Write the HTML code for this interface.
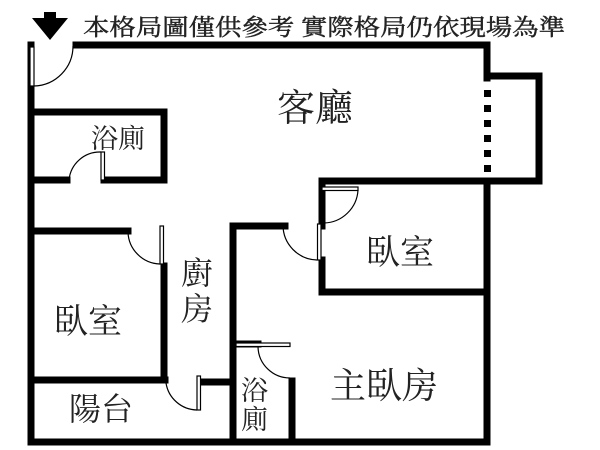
<!DOCTYPE html>
<html><head><meta charset="utf-8"><style>
html,body{margin:0;padding:0;background:#fff;}
svg{display:block;}
text{font-family:"Liberation Serif","Noto Serif CJK SC","Noto Sans CJK TC",serif;fill:#222;}
</style></head><body>
<svg width="600" height="450" viewBox="0 0 600 450" xmlns="http://www.w3.org/2000/svg">
<rect width="600" height="450" fill="#fff"/>
<rect x="44" y="12" width="12" height="8" fill="#000"/>
<polygon points="32,18 68,18 50,40" fill="#000"/>
<text x="83" y="35" font-size="23" textLength="482" lengthAdjust="spacingAndGlyphs" font-family="Liberation Sans,Noto Sans CJK TC,sans-serif" fill="#222" stroke="#222" stroke-width="0.4">本格局圖僅供參考&#160;實際格局仍依現場為準</text>
<g stroke="#000" stroke-width="7" fill="none" stroke-linecap="square">
<line x1="31" y1="45" x2="31" y2="442"/>
<line x1="76" y1="45" x2="487" y2="45"/>
<line x1="487" y1="45" x2="487" y2="78"/>
<polyline points="487,76 539,76 539,181 322,181 322,226"/>
<line x1="487" y1="181" x2="487" y2="442"/>
<line x1="31" y1="442" x2="487" y2="442"/>
<polyline points="33,112 164,112 164,180 104,180"/>
<line x1="33" y1="180" x2="67" y2="180"/>
<line x1="33" y1="231" x2="128" y2="231"/>
<line x1="164" y1="266" x2="164" y2="380"/>
<line x1="33" y1="380" x2="165" y2="380"/>
<line x1="203" y1="382" x2="232" y2="382"/>
<line x1="233" y1="226" x2="233" y2="442"/>
<line x1="233" y1="226" x2="285" y2="226"/>
<line x1="322" y1="260" x2="322" y2="292"/>
<line x1="322" y1="292" x2="487" y2="292"/>
<line x1="235" y1="344" x2="258" y2="344"/>
<line x1="292" y1="381" x2="292" y2="442"/>
</g>
<g fill="#000">
<rect x="484" y="90" width="7" height="7"/><rect x="484" y="105" width="7" height="7"/><rect x="484" y="120" width="7" height="7"/><rect x="484" y="135" width="7" height="7"/><rect x="484" y="150" width="7" height="7"/><rect x="484" y="165" width="7" height="7"/>
</g>
<g fill="#fff" stroke="#000" stroke-width="1.2">
<rect x="30" y="47" width="4" height="39"/>
<rect x="101" y="152" width="3.5" height="28"/>
<rect x="160" y="226" width="3.5" height="38"/>
<rect x="197" y="376" width="3.5" height="34"/>
<rect x="322" y="187" width="36" height="3.5"/>
<rect x="317.5" y="224" width="3.5" height="36"/>
<rect x="236" y="343" width="54" height="3.5"/>
</g>
<g fill="none" stroke="#000" stroke-width="1.2">
<path d="M34,86 A40,40 0 0 0 73,46"/>
<path d="M69,180 A31,31 0 0 1 101,152"/>
<path d="M128,232 A33,33 0 0 0 160,264"/>
<path d="M166,383 A32,32 0 0 0 197,410"/>
<path d="M358,190 A35,35 0 0 1 324,223"/>
<path d="M283,225 A35,35 0 0 0 317,260"/>
<path d="M258,347 A32,32 0 0 0 290,378"/>
</g>
<text x="277" y="121" font-size="38">客廳</text>
<text x="91" y="148" font-size="27">浴廁</text>
<text x="366" y="264" font-size="34">臥室</text>
<text x="54" y="333" font-size="34">臥室</text>
<text x="181" y="284" font-size="32">廚</text>
<text x="181" y="320" font-size="32">房</text>
<text x="69" y="420" font-size="32">陽台</text>
<text x="330" y="398" font-size="36">主臥房</text>
<text x="241" y="400" font-size="27">浴</text>
<text x="241" y="429" font-size="27">廁</text>
</svg>
</body></html>
